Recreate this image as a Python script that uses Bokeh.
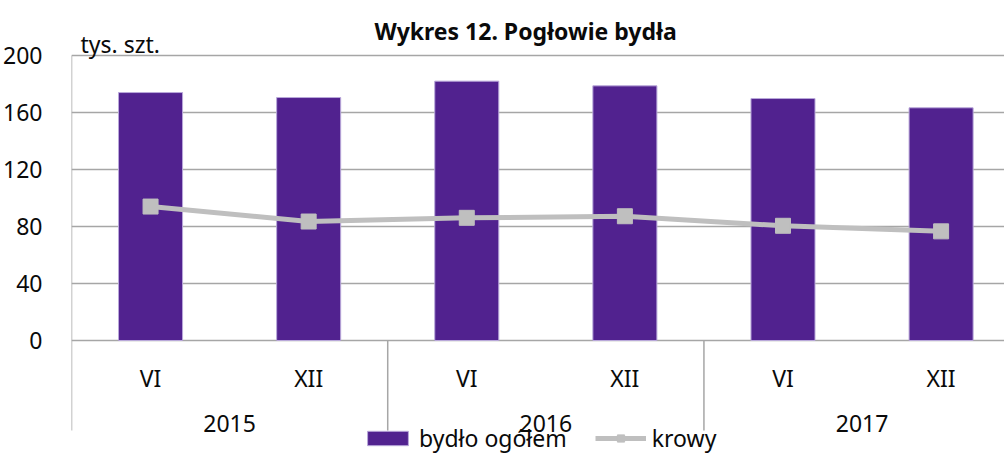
from bokeh.plotting import figure
from bokeh.models import ColumnDataSource, FixedTicker, Range1d, Legend, LegendItem
from bokeh.core.properties import value
from bokeh.embed import file_html
from bokeh.resources import INLINE

# ---- data ----
periods = ["VI", "XII", "VI", "XII", "VI", "XII"]
years = ["2015", "2016", "2017"]
bydlo = [174.0, 170.5, 182.0, 178.7, 169.8, 163.3]
krowy = [94.0, 83.5, 86.1, 87.2, 80.5, 76.6]
y_ticks = [0, 40, 80, 120, 160, 200]
title_text = "Wykres 12. Pogłowie bydła"
unit_text = "tys. szt."

FONT = "Noto Sans"
xs = [i + 0.5 for i in range(len(periods))]
year_x = [2 * i + 1 for i in range(len(years))]
sep_x = [2 * i for i in range(len(years))]

p = figure(width=1004, height=456, output_backend="svg", toolbar_location=None,
           x_range=Range1d(0, 5.901), y_range=Range1d(-81.4, 238.6),
           min_border_left=71, min_border_right=0, min_border_top=0, min_border_bottom=0)
p.outline_line_color = None
p.background_fill_color = "white"
p.border_fill_color = "white"
p.xaxis.visible = False
p.xgrid.visible = False

ya = p.yaxis[0]
ya.ticker = FixedTicker(ticks=y_ticks)
ya.axis_line_color = None
ya.major_tick_line_color = None
ya.minor_tick_line_color = None
ya.major_label_text_font = FONT
ya.major_label_text_font_size = "23px"
ya.major_label_text_color = "#0A0A0A"
ya.major_label_standoff = 23
p.ygrid.ticker = FixedTicker(ticks=y_ticks)
p.ygrid.grid_line_color = "#A6A6A6"
p.ygrid.grid_line_width = 1.5

# axis line and year separators
p.segment(x0=sep_x, y0=[-63.2] * len(sep_x), x1=sep_x, y1=[200] + [0] * (len(sep_x) - 1),
          line_color="#A6A6A6", line_width=1.5)

src = ColumnDataSource(dict(x=xs, bydlo=bydlo, krowy=krowy, periods=periods))
bars = p.vbar(x="x", top="bydlo", width=0.405, source=src, fill_color="#51228F",
              line_color="#B9A8DA", line_width=1)
ln = p.line(x="x", y="krowy", source=src, line_color="#BFBFBF", line_width=5)
mk = p.scatter(x="x", y="krowy", source=src, marker="square", size=15,
               fill_color="#BFBFBF", line_color="#BFBFBF")

# category labels
p.text(x="x", y=-26.2, text="periods", source=src, text_align="center",
       text_baseline="alphabetic", text_font=value(FONT), text_font_size="23px", text_color="#0A0A0A")
p.text(x=year_x, y=[-58.5] * len(years), text=years, text_align="center",
       text_baseline="alphabetic", text_font=value(FONT), text_font_size="23px", text_color="#0A0A0A")

# title and unit
p.text(x=[2.872], y=[217.5], text=[title_text], text_align="center", text_baseline="alphabetic",
       text_font=value(FONT), text_font_style="bold", text_font_size="23px", text_color="#0A0A0A")
p.text(x=[0.057], y=[208.2], text=[unit_text], text_align="left", text_baseline="alphabetic",
       text_font=value(FONT), text_font_size="23px", text_color="#0A0A0A")

legend = Legend(items=[LegendItem(label="bydło ogółem", renderers=[bars]),
                       LegendItem(label="krowy", renderers=[ln, mk])],
                orientation="horizontal", location=(291, 2),
                glyph_width=51, glyph_height=18, label_height=18, label_standoff=6, spacing=28,
                padding=0, margin=0, background_fill_alpha=0, border_line_color=None,
                label_text_font=FONT, label_text_font_size="23px", label_text_color="#0A0A0A")
p.add_layout(legend)

open("out.html", "w").write(file_html(p, INLINE))
